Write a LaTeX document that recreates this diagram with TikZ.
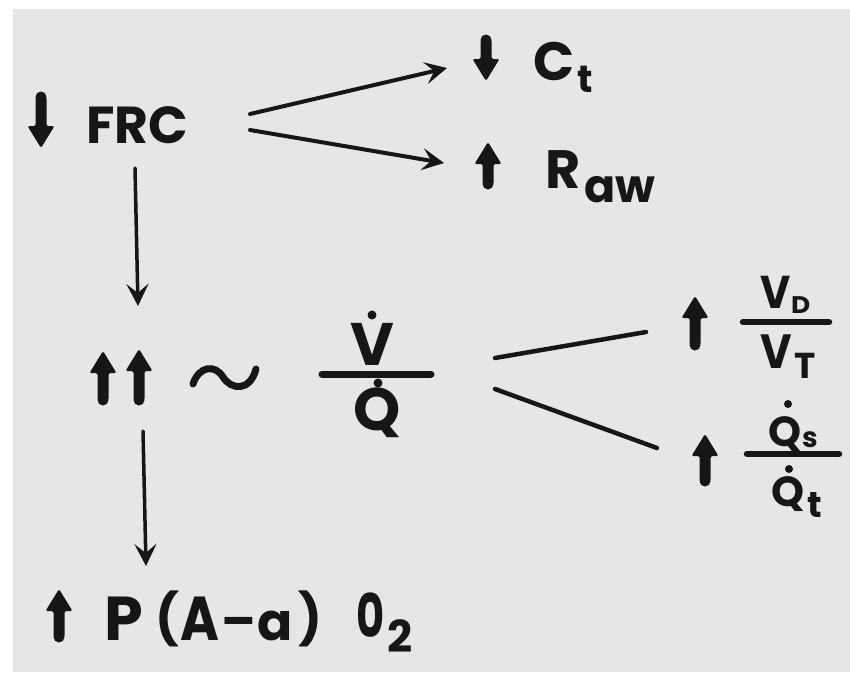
\documentclass[tikz,border=0pt]{standalone}
\usepackage{fontspec}
\usepackage{graphicx}
\setmainfont{Poppins}
\usetikzlibrary{arrows.meta}
\definecolor{paper}{HTML}{E6E6E6}
\definecolor{ink}{HTML}{161616}
\newcommand{\fsz}[1]{\fontsize{#1}{#1}\selectfont\bfseries}
% thick glyph-like vertical arrow: x, tail y, tip y
\newcommand{\vArr}[3]{%
  \pgfmathsetmacro{\sgnv}{sign(#2-#3)}%
  \pgfmathsetmacro{\hbv}{#3+22*\sgnv}%
  \fill[ink, rounded corners=1.5pt] (#1-5.5,#2) -- (#1-5.5,\hbv) -- (#1-13.5,\hbv) -- (#1,#3) -- (#1+13.5,\hbv) -- (#1+5.5,\hbv) -- (#1+5.5,#2) -- cycle;
  \fill[ink] (#1,#2) circle (5.5);}
\begin{document}
\begin{tikzpicture}[x=1pt,y=-1pt,
  txt/.style={inner sep=0pt, outer sep=0pt, text=ink, anchor=base west},
  conn/.style={line width=3.5pt, draw=ink, line cap=round},
  arr/.style={conn, -{Stealth[length=22pt,width=22pt,inset=9pt]}},
  bar/.style={line width=6.5pt, draw=ink, line cap=round},
  dotmark/.style={fill=ink}]
\fill[white] (0,0) rectangle (850,672);
\fill[paper] (13,9) rectangle (850,672);
\useasboundingbox (0,0) rectangle (850,672);

% FRC
\vArr{41}{97}{148}
\node[txt, font=\fsz{52}] (frc) at (86,143) {FRC};

% C_t
\vArr{486}{40}{81}
\node[txt, font=\fsz{54}] (ct) at (533,80) {C};
\node[txt, font=\fsz{38}] (ctsub) at (577,92) {t};

% R_aw
\vArr{488}{184}{142}
\node[txt, font=\fsz{54}] (raw) at (545,188) {R};
\node[txt, font=\fsz{46}] (rawsub) at (584,202) {aw};

% up up ~ V/Q
\vArr{103}{400}{351}
\vArr{139}{400}{349}
\draw[line width=7pt, draw=ink, line cap=round] (193,384) .. controls (199,366) and (215,364) .. (223,377) .. controls (231,390) and (250,392) .. (256,369);

\node[txt, anchor=base, font=\fsz{60}] (vnum) at (372,365) {V};
\fill[dotmark] (372,315) circle (4.5);
\draw[bar, line width=7pt] (322,374) -- (431,374);
\node[txt, anchor=base, font=\fsz{60}] (qden) at (377,430) {Q};
\fill[dotmark] (378,383) circle (4.5);

% V_D / V_T
\vArr{695}{345}{296}
\node[txt, font=\fsz{46}] (vd) at (760,308) {\scalebox{0.9}[1]{V}};
\node[txt, font=\fsz{24}] (vdsub) at (791,313) {\scalebox{1.1}[1]{D}};
\draw[bar] (743,322) -- (829,322);
\node[txt, font=\fsz{48}] (vt) at (760,368) {\scalebox{0.9}[1]{V}};
\node[txt, font=\fsz{36}] (vtsub) at (794,378) {T};

% Qs / Qt
\vArr{705}{481}{434}
\node[txt, font=\fsz{42}] (qs) at (768,446) {Q};
\fill[dotmark] (788,404) circle (4);
\node[txt, font=\fsz{28}] (qssub) at (802,447) {s};
\draw[bar] (747,454) -- (839,454);
\node[txt, font=\fsz{42}] (qt) at (771,506) {Q};
\fill[dotmark] (789,469) circle (4);
\node[txt, font=\fsz{36}] (qtsub) at (807,517) {t};

% P(A-a)O2
\vArr{59}{637}{589}
\node[txt, font=\fsz{62}] (p) at (104,640) {P};
\node[txt, font=\fsz{50}] (lpar) at (155,636) {(};
\node[txt, font=\fsz{62}] (aA) at (180,640) {\scalebox{0.85}[1]{A}};
\node[txt, font=\fsz{50}] (minus) at (221,640) {\raisebox{2pt}{–}};
\node[txt, font=\fsz{52}] (aa) at (257,640) {a};
\node[txt, font=\fsz{50}] (rpar) at (298,636) {)};
\node[txt, font=\fsz{60}] (o) at (356,637) {\scalebox{0.72}[1]{0}};
\node[txt, font=\fsz{44}] (osub) at (387,652) {2};

% connectors
\coordinate (frcA) at (250,114);
\coordinate (ctA) at (447,68);
\coordinate (frcB) at (250,130);
\coordinate (rawA) at (444,163);
\coordinate (frcC) at (135,168);
\coordinate (uuA) at (138,306);
\coordinate (uuB) at (143,431);
\coordinate (pA) at (146,566);
\coordinate (vqA) at (495,358);
\coordinate (vdA) at (646,332);
\coordinate (vqB) at (495,389);
\coordinate (qsA) at (657,448);
\draw[arr, line width=4pt] (frcA) -- (ctA);
\draw[arr, line width=4pt] (frcB) -- (rawA);
\draw[arr] (frcC) -- (uuA);
\draw[arr] (uuB) -- (pA);
\draw[conn, line width=4.5pt] (vqA) -- (vdA);
\draw[conn, line width=4.5pt] (vqB) -- (qsA);
\end{tikzpicture}
\end{document}
